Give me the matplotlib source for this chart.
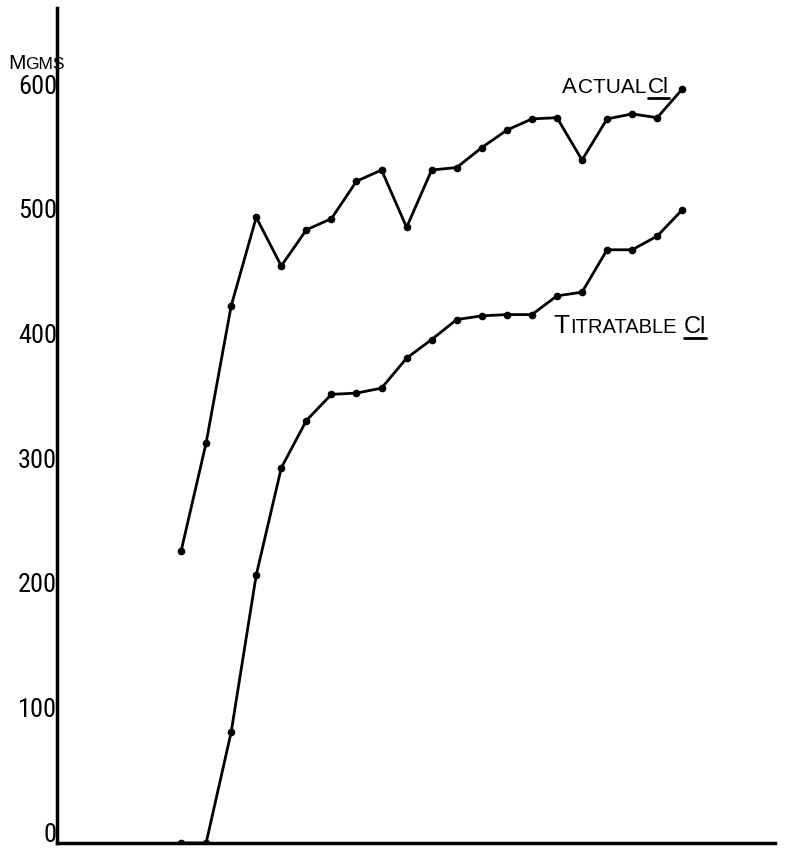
import numpy as np
import matplotlib
matplotlib.use("Agg")
import matplotlib.pyplot as plt
from matplotlib.lines import Line2D
import matplotlib.transforms as mtrans

# ---- data ----
reading = list(range(5, 26))  # 21 readings taken at equal intervals
actual_cl = [234, 321, 431, 502, 463, 492, 501, 531, 540, 494, 540,
             542, 558, 572, 581, 582, 548, 581, 585, 582, 605]
titratable_cl = [0, 0, 89, 215, 301, 339, 360, 361, 365, 389, 404,
                 420, 423, 424, 424, 439, 442, 476, 476, 487, 508]
y_ticks = [0, 100, 200, 300, 400, 500, 600]
y_tick_labels = ["0", "100", "200", "300", "400", "500", "600"]

plt.rcParams["font.family"] = ["Liberation Sans", "DejaVu Sans"]
TICK_FONT = ["Roboto Condensed", "Liberation Sans Narrow", "Liberation Sans"]

W, H = 788, 848
fig = plt.figure(figsize=(W / 100, H / 100), dpi=100)
ax = fig.add_axes([57 / W, 5 / H, (775 - 57) / W, (843 - 8) / H])
ax.set_xlim(0.05, 28.7)
ax.set_ylim(0, 670)

for series in (actual_cl, titratable_cl):
    ax.plot(reading, series, color="black", lw=2.0, marker="o", ms=4.5,
            solid_joinstyle="round", solid_capstyle="round")

for s in ("top", "right"):
    ax.spines[s].set_visible(False)
for s in ("left", "bottom"):
    ax.spines[s].set_linewidth(2.5)
    ax.spines[s].set_color("black")

ax.set_xticks([])
ax.set_yticks(y_ticks)
ax.set_yticklabels(y_tick_labels, family=TICK_FONT, fontsize=19)
ax.tick_params(axis="y", length=0, pad=0)
shift = mtrans.ScaledTranslation(0, 0.11, fig.dpi_scale_trans)
for lbl in ax.get_yticklabels():
    lbl.set_transform(lbl.get_transform() + shift)

fig.canvas.draw()
renderer = fig.canvas.get_renderer()


def lettering(x_disp, y_disp, parts):
    """Write text pieces side by side on a common baseline (display px)."""
    cur = x_disp
    for s, size, ul, gap in parts:
        cur += gap
        t = fig.text(cur / W, y_disp / H, s, fontsize=size, ha="left",
                     va="baseline", color="black")
        bb = t.get_window_extent(renderer)
        if ul:
            yy = (y_disp - 5) / H
            fig.add_artist(Line2D([bb.x0 / W, bb.x1 / W], [yy, yy],
                                  transform=fig.transFigure, color="black",
                                  lw=2, solid_capstyle="round"))
        cur = bb.x1


# label positions anchored in data space near the curves' ends
xa, ya = ax.transData.transform((20.2, 602))
lettering(xa, ya, [("A", 16, False, 0), ("CTUAL", 15, False, 1),
                   ("Cl", 16, True, 2)])
xt, yt = ax.transData.transform((19.84, 409))
lettering(xt, yt, [("T", 19, False, 0), ("ITRATABLE", 14.5, False, 1),
                   ("Cl", 17, True, 7)])

# units label above the axis
lettering(8, H - 69, [("M", 15, False, 0), ("GMS", 12.5, False, 0)])

fig.savefig("out.png", dpi=100, facecolor="white")
